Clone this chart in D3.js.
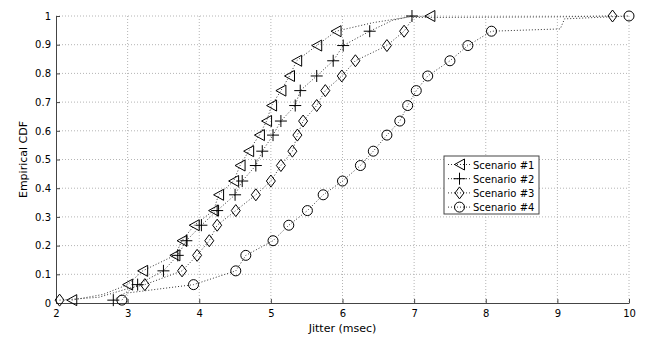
<!DOCTYPE html>
<html>
<head>
<meta charset="utf-8">
<script src="https://cdn.jsdelivr.net/npm/d3@7/dist/d3.min.js"></script>
<style>
  body { margin: 0; background: #fff; }
  text { font-family: "DejaVu Sans", Verdana, sans-serif; }
</style>
</head>
<body>
<div id="chart"></div>
<script>
// CDF level of each marker (shared by all four scenarios)
const cdfLevels = [0.01, 0.064, 0.112, 0.166, 0.217, 0.271, 0.322, 0.377, 0.425, 0.479,
                   0.529, 0.585, 0.634, 0.688, 0.74, 0.791, 0.844, 0.897, 0.947, 1.0];

// jitter (msec) at each marker
const jitter1 = [2.22, 3.0, 3.21, 3.66, 3.76, 3.93, 4.2, 4.27, 4.48, 4.57,
                 4.69, 4.84, 4.94, 5.01, 5.14, 5.26, 5.36, 5.64, 5.91, 7.22];
const jitter2 = [2.80, 3.14, 3.50, 3.70, 3.82, 4.03, 4.25, 4.50, 4.60, 4.79,
                 4.88, 5.03, 5.14, 5.34, 5.41, 5.64, 5.87, 6.01, 6.38, 6.97];
const jitter3 = [2.05, 3.24, 3.76, 3.97, 4.14, 4.25, 4.51, 4.79, 5.00, 5.14,
                 5.30, 5.37, 5.45, 5.64, 5.76, 5.99, 6.18, 6.62, 6.86, 9.77];
const jitter4 = [2.92, 3.92, 4.51, 4.65, 5.03, 5.25, 5.51, 5.73, 6.00, 6.25,
                 6.43, 6.62, 6.80, 6.91, 7.03, 7.19, 7.50, 7.75, 8.08, 10.0];

// extra bends of the dotted ecdf lines between markers [jitter, cdf]
const bends1 = [[2.66, 0.03], [6.43, 0.977], [6.94, 0.997]];
const bends2 = [[3.0, 0.04], [6.7, 0.985]];
const bends3 = [[2.6, 0.02], [3.0, 0.05], [6.99, 0.995], [9.0, 0.997]];
const bends4 = [[3.0, 0.035], [9.04, 0.955], [9.1, 0.99]];

const names = ['Scenario #1', 'Scenario #2', 'Scenario #3', 'Scenario #4'];
const xTicks = [2, 3, 4, 5, 6, 7, 8, 9, 10];
const yTicks = [0, 0.1, 0.2, 0.3, 0.4, 0.5, 0.6, 0.7, 0.8, 0.9, 1];

const series = [
  { name: names[0], x: jitter1, bends: bends1, marker: 'tri' },
  { name: names[1], x: jitter2, bends: bends2, marker: 'plus' },
  { name: names[2], x: jitter3, bends: bends3, marker: 'diamond' },
  { name: names[3], x: jitter4, bends: bends4, marker: 'circle' }
];

const W = 650, H = 337;
const margin = { top: 16, right: 21, bottom: 34, left: 56 };
const w = W - margin.left - margin.right;
const h = H - margin.top - margin.bottom;

const svg = d3.select('#chart').append('svg')
  .attr('width', W)
  .attr('height', H);

const g = svg.append('g')
  .attr('transform', `translate(${margin.left},${margin.top})`);

const x = d3.scaleLinear().domain([2, 10]).range([0, w]);
const y = d3.scaleLinear().domain([0, 1]).range([h, 0]);

// grid
g.append('g')
  .selectAll('line')
  .data(xTicks.slice(1))
  .enter().append('line')
  .attr('x1', d => x(d)).attr('x2', d => x(d))
  .attr('y1', 0).attr('y2', h)
  .attr('stroke', '#b4b4b4').attr('stroke-dasharray', '1,2');
g.append('g')
  .selectAll('line')
  .data(yTicks.slice(1))
  .enter().append('line')
  .attr('x1', 0).attr('x2', w)
  .attr('y1', d => y(d)).attr('y2', d => y(d))
  .attr('stroke', '#b4b4b4').attr('stroke-dasharray', '1,2');

// axes
const xAxis = g.append('g')
  .attr('transform', `translate(0,${h})`)
  .call(d3.axisBottom(x).tickValues(xTicks).tickFormat(d3.format('d')).tickSizeInner(-4).tickSizeOuter(0).tickPadding(7));
const yAxis = g.append('g')
  .call(d3.axisLeft(y).tickValues(yTicks).tickFormat(d => d === 0 || d === 1 ? String(d) : d.toFixed(1)).tickSizeInner(-4).tickSizeOuter(0).tickPadding(5));

[xAxis, yAxis].forEach(a => {
  a.select('.domain').attr('stroke', '#444');
  a.selectAll('.tick line').attr('stroke', '#444');
  a.selectAll('text').attr('font-size', 10).attr('fill', '#000')
    .attr('font-family', '"DejaVu Sans", Verdana, sans-serif');
});

// axis labels
svg.append('text')
  .attr('x', margin.left + w / 2)
  .attr('y', 332)
  .attr('text-anchor', 'middle')
  .attr('font-size', 11)
  .text('Jitter (msec)');
svg.append('text')
  .attr('transform', `translate(27,${margin.top + h / 2}) rotate(-90)`)
  .attr('text-anchor', 'middle')
  .attr('font-size', 11)
  .text('Empirical CDF');

// marker shapes
function drawMarker(sel, type) {
  if (type === 'tri') {
    sel.append('path').attr('d', 'M-5,0L5,-5.5L5,5.5Z');
  } else if (type === 'plus') {
    sel.append('path').attr('d', 'M-6,0H6M0,-6V6');
  } else if (type === 'diamond') {
    sel.append('path').attr('d', 'M0,-6L4.5,0L0,6L-4.5,0Z');
  } else {
    sel.append('circle').attr('r', 5);
  }
  sel.selectAll('path,circle')
    .attr('fill', 'none').attr('stroke', '#000').attr('stroke-width', 1);
}

const line = d3.line().x(d => x(d[0])).y(d => y(d[1]));

series.forEach(s => {
  const pts = s.x.map((v, i) => [v, cdfLevels[i]]);
  const path = pts.concat(s.bends).sort((a, b) => a[0] - b[0] || a[1] - b[1]);

  g.append('path')
    .datum(path)
    .attr('d', line)
    .attr('fill', 'none')
    .attr('stroke', '#333')
    .attr('stroke-width', 1)
    .attr('stroke-dasharray', '1,2');

  g.append('g')
    .selectAll('g')
    .data(pts)
    .enter().append('g')
    .attr('transform', d => `translate(${x(d[0])},${y(d[1])})`)
    .each(function () { drawMarker(d3.select(this), s.marker); });
});

// legend
const lg = svg.append('g').attr('transform', 'translate(444,156)');
lg.append('rect')
  .attr('width', 95).attr('height', 58)
  .attr('fill', '#fff').attr('stroke', '#444');
series.forEach((s, i) => {
  const row = lg.append('g').attr('transform', `translate(0,${8.5 + i * 14.2})`);
  row.append('line')
    .attr('x1', 4).attr('x2', 27).attr('y1', 0).attr('y2', 0)
    .attr('stroke', '#333').attr('stroke-dasharray', '1,2');
  const m = row.append('g').attr('transform', 'translate(15.5,0)');
  drawMarker(m, s.marker);
  row.append('text')
    .attr('x', 29).attr('y', 4)
    .attr('font-size', 10)
    .text(s.name);
});
</script>
</body>
</html>
